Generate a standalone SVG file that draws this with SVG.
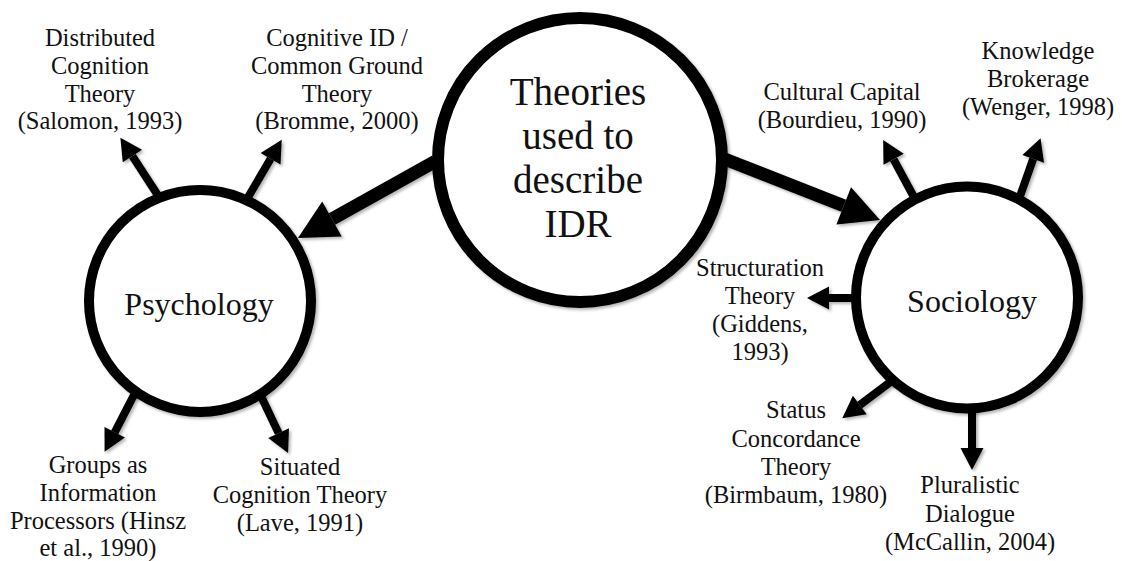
<svg xmlns="http://www.w3.org/2000/svg" width="1122" height="561" viewBox="0 0 1122 561">
<style>
.lbl{font-family:"Liberation Serif","Times New Roman",serif;font-size:24.5px;fill:#111;text-anchor:middle}
.big{font-family:"Liberation Serif","Times New Roman",serif;font-size:39px;fill:#111;text-anchor:middle}
.mid{font-family:"Liberation Serif","Times New Roman",serif;font-size:32px;fill:#111;text-anchor:middle}
.node{fill:#fff;stroke:#000}
.thick{stroke:#000;stroke-width:13;fill:none}
.thin{stroke:#000;stroke-width:8;fill:none}
</style>
<defs>
<filter id="sh" x="-20%" y="-20%" width="140%" height="140%">
<feDropShadow dx="2" dy="2" stdDeviation="1.5" flood-color="#000" flood-opacity="0.3"/>
</filter>
<marker id="hb" markerUnits="userSpaceOnUse" markerWidth="42" markerHeight="44" refX="0" refY="0" viewBox="0 -22 42 44" orient="auto" overflow="visible">
<path d="M0,-20 L39,0 L0,20 Z" fill="#000"/>
</marker>
<marker id="hs" markerUnits="userSpaceOnUse" markerWidth="24" markerHeight="26" refX="0" refY="0" viewBox="0 -13 24 26" orient="auto" overflow="visible">
<path d="M0,-11.5 L22,0 L0,11.5 Z" fill="#000"/>
</marker>
</defs>
<rect width="1122" height="561" fill="#fff"/>

<g id="node-main" filter="url(#sh)">
<circle class="node" cx="580" cy="160" r="142" stroke-width="12"/>
</g>
<g id="node-psychology" filter="url(#sh)">
<circle class="node" cx="200" cy="301" r="111" stroke-width="10"/>
</g>
<g id="node-sociology" filter="url(#sh)">
<circle class="node" cx="967" cy="297.5" r="111" stroke-width="10"/>
</g>

<g id="connectors" filter="url(#sh)">
<line class="thick" x1="435" y1="161.5" x2="332" y2="219" marker-end="url(#hb)"/>
<line class="thick" x1="722" y1="158" x2="843.7" y2="205.8" marker-end="url(#hb)"/>
<line class="thin" x1="159" y1="197" x2="132.4" y2="156.1" marker-end="url(#hs)"/>
<line class="thin" x1="247" y1="199" x2="270.6" y2="158.8" marker-end="url(#hs)"/>
<line class="thin" x1="136" y1="391" x2="114.7" y2="432.3" marker-end="url(#hs)"/>
<line class="thin" x1="260" y1="394" x2="278.6" y2="433.1" marker-end="url(#hs)"/>
<line class="thin" x1="915" y1="199" x2="893.6" y2="159.3" marker-end="url(#hs)"/>
<line class="thin" x1="1019" y1="199" x2="1033.2" y2="158.9" marker-end="url(#hs)"/>
<line class="thin" x1="856" y1="298" x2="829" y2="298" marker-end="url(#hs)"/>
<line class="thin" x1="893" y1="380" x2="859.8" y2="405" marker-end="url(#hs)"/>
<line class="thin" x1="972" y1="408" x2="972" y2="448" marker-end="url(#hs)"/>
</g>

<g id="text-main">
<text class="big" x="578" y="105">Theories</text>
<text class="big" x="578" y="149">used to</text>
<text class="big" x="578" y="193">describe</text>
<text class="big" x="578" y="237">IDR</text>
</g>
<g id="text-psychology"><text class="mid" x="199" y="315">Psychology</text></g>
<g id="text-sociology"><text class="mid" x="972" y="312">Sociology</text></g>

<g id="label-distributed">
<text class="lbl" x="100" y="46">Distributed</text>
<text class="lbl" x="100" y="74">Cognition</text>
<text class="lbl" x="100" y="102">Theory</text>
<text class="lbl" x="100" y="129">(Salomon, 1993)</text>
</g>
<g id="label-cognitive">
<text class="lbl" x="337" y="46">Cognitive ID /</text>
<text class="lbl" x="337" y="74">Common Ground</text>
<text class="lbl" x="337" y="102">Theory</text>
<text class="lbl" x="337" y="129">(Bromme, 2000)</text>
</g>
<g id="label-groups">
<text class="lbl" x="98" y="473">Groups as</text>
<text class="lbl" x="98" y="501">Information</text>
<text class="lbl" x="98" y="529">Processors (Hinsz</text>
<text class="lbl" x="98" y="556">et al., 1990)</text>
</g>
<g id="label-situated">
<text class="lbl" x="300" y="475">Situated</text>
<text class="lbl" x="300" y="503">Cognition Theory</text>
<text class="lbl" x="300" y="531">(Lave, 1991)</text>
</g>
<g id="label-cultural">
<text class="lbl" x="842" y="100">Cultural Capital</text>
<text class="lbl" x="842" y="128">(Bourdieu, 1990)</text>
</g>
<g id="label-knowledge">
<text class="lbl" x="1038" y="59">Knowledge</text>
<text class="lbl" x="1038" y="87">Brokerage</text>
<text class="lbl" x="1038" y="115">(Wenger, 1998)</text>
</g>
<g id="label-structuration">
<text class="lbl" x="760" y="276">Structuration</text>
<text class="lbl" x="760" y="304">Theory</text>
<text class="lbl" x="760" y="332">(Giddens,</text>
<text class="lbl" x="760" y="360">1993)</text>
</g>
<g id="label-status">
<text class="lbl" x="796" y="418">Status</text>
<text class="lbl" x="796" y="447">Concordance</text>
<text class="lbl" x="796" y="475">Theory</text>
<text class="lbl" x="796" y="503">(Birmbaum, 1980)</text>
</g>
<g id="label-pluralistic">
<text class="lbl" x="970" y="493">Pluralistic</text>
<text class="lbl" x="970" y="522">Dialogue</text>
<text class="lbl" x="970" y="550">(McCallin, 2004)</text>
</g>
</svg>
